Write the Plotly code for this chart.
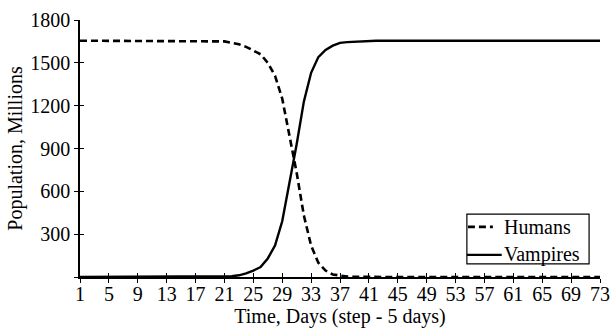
import plotly.graph_objects as go

days = list(range(1, 74))

humans = ([1655] * 20 +
          [1650, 1640, 1630, 1612, 1585, 1560, 1500, 1410, 1250, 1000,
           730, 430, 220, 100, 45, 18, 8, 3, 1] +
          [0] * 34)

vampires = ([0] * 21 +
            [5, 12, 25, 45, 70, 130, 220, 390, 660, 930,
             1230, 1430, 1540, 1590, 1620, 1640, 1645, 1648, 1650] +
            [1655] * 33)

series_names = ["Humans", "Vampires"]
x_ticks = list(range(1, 74, 4))
y_ticks = [300, 600, 900, 1200, 1500, 1800]

FONT = "Liberation Serif"
FS = 20
DASH = "7px,4px"

fig = go.Figure()
fig.add_trace(go.Scatter(x=days, y=humans, mode="lines", name=series_names[0],
                         showlegend=False,
                         line=dict(color="black", width=2.6, dash=DASH)))
fig.add_trace(go.Scatter(x=days, y=vampires, mode="lines", name=series_names[1],
                         showlegend=False,
                         line=dict(color="black", width=2.4)))
# helper trace for overlay axes (inside tick marks)
fig.add_trace(go.Scatter(x=[None], y=[None], xaxis="x2", yaxis="y2",
                         showlegend=False, hoverinfo="skip"))

# compact legend box (paper coordinates)
lx0, lx1, ly0, ly1 = 0.744, 0.979, 0.051, 0.245
row_y = [0.195, 0.086]
fig.add_shape(type="rect", xref="paper", yref="paper", x0=lx0, x1=lx1,
              y0=ly0, y1=ly1, line=dict(color="black", width=1.2),
              fillcolor="white", layer="above")
fig.add_shape(type="line", xref="paper", yref="paper", x0=lx0 + 0.002,
              x1=0.794, y0=row_y[0], y1=row_y[0],
              line=dict(color="black", width=2.6, dash=DASH), layer="above")
fig.add_shape(type="line", xref="paper", yref="paper", x0=lx0,
              x1=0.811, y0=row_y[1], y1=row_y[1],
              line=dict(color="black", width=2.4), layer="above")
for name, ry in zip(series_names, row_y):
    fig.add_annotation(x=0.812, y=ry, xref="paper", yref="paper",
                       text=name, showarrow=False, xanchor="left",
                       yanchor="middle",
                       font=dict(family=FONT, size=FS, color="black"))

fig.update_layout(
    width=612, height=330,
    margin=dict(l=80, r=12, t=20, b=53),
    paper_bgcolor="white", plot_bgcolor="white",
    font=dict(family=FONT, size=FS, color="black"),
    showlegend=False,
    xaxis=dict(range=[1, 73], tickmode="array", tickvals=x_ticks,
               ticktext=[str(v) for v in x_ticks], automargin=False,
               showgrid=False, zeroline=False, showline=True,
               linecolor="black", linewidth=1.5,
               ticks="outside", ticklen=4, tickwidth=1.3, tickcolor="black",
               ticklabelstandoff=-6,
               tickfont=dict(family=FONT, size=FS),
               title=dict(text="Time, Days (step - 5 days)", standoff=0,
                          font=dict(family=FONT, size=FS))),
    yaxis=dict(range=[0, 1800], tickmode="array", tickvals=[0] + y_ticks,
               ticktext=[""] + [str(v) for v in y_ticks], automargin=False,
               showgrid=False, zeroline=False, showline=True,
               linecolor="black", linewidth=1.5,
               ticks="outside", ticklen=4, tickwidth=1.3, tickcolor="black",
               tickfont=dict(family=FONT, size=FS),
               title=dict(text="Population, Millions", standoff=2,
                          font=dict(family=FONT, size=FS))),
    xaxis2=dict(overlaying="x", range=[1, 73], tickmode="array",
                tickvals=x_ticks, showticklabels=False, showgrid=False,
                zeroline=False, showline=False, ticks="inside", ticklen=4,
                tickwidth=1.3, tickcolor="black", side="bottom"),
    yaxis2=dict(overlaying="y", range=[0, 1800], tickmode="array",
                tickvals=[0] + y_ticks, showticklabels=False, showgrid=False,
                zeroline=False, showline=False, ticks="inside", ticklen=4,
                tickwidth=1.3, tickcolor="black", side="left"),
)

fig.write_html("out.html")
